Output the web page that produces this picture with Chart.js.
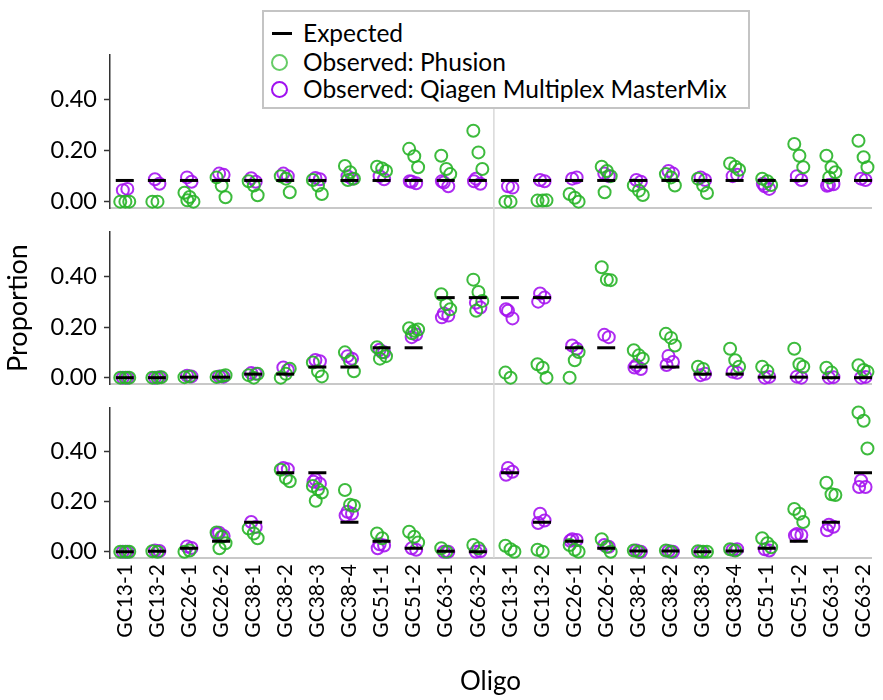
<!DOCTYPE html>
<html>
<head>
<meta charset="utf-8">
<script src="https://cdn.jsdelivr.net/npm/chart.js@4.4.1/dist/chart.umd.min.js"></script>
<style>
  html, body { margin: 0; padding: 0; background: #fff; }
  body { width: 883px; height: 700px; position: relative; overflow: hidden; font-family: Lato, "Open Sans", sans-serif; }
  canvas { position: absolute; left: 0; }
  #legend { position: absolute; left: 262px; top: 10px; width: 488px; height: 99px; box-sizing: border-box;
            border: 2px solid #c4c4c4; background: #fff; z-index: 5; }
  #legend .row { position: absolute; left: 0; height: 28px; line-height: 28px; font-size: 24.5px; color: #000; white-space: nowrap; }
  #legend .sym { position: absolute; }
  #legend .txt { position: absolute; left: 39px; top: 0; }
  #legend .dash { left: 8px; top: 13px; width: 20px; height: 3px; background: #000; }
  #legend .circ { left: 7px; top: 6px; width: 13px; height: 13px; border-radius: 50%; border: 2.5px solid; }
</style>
</head>
<body>
<canvas id="c1" width="883" height="220" style="top:0px"></canvas>
<canvas id="c2" width="883" height="176" style="top:220px"></canvas>
<canvas id="c3" width="883" height="304" style="top:396px"></canvas>
<div id="legend">
  <div class="row" style="top:7px"><span class="sym dash"></span><span class="txt">Expected</span></div>
  <div class="row" style="top:36px"><span class="sym circ" style="border-color:#66cc66"></span><span class="txt">Observed: Phusion</span></div>
  <div class="row" style="top:63px"><span class="sym circ" style="border-color:#a010f0"></span><span class="txt">Observed: Qiagen Multiplex MasterMix</span></div>
</div>
<script>
// ---------------- DATA ----------------
const oligos = ['GC13-1','GC13-2','GC26-1','GC26-2','GC38-1','GC38-2','GC38-3','GC38-4','GC51-1','GC51-2','GC63-1','GC63-2'];
const categories = oligos.concat(oligos);
const yTickValues = [0, 0.1, 0.2, 0.3, 0.4, 0.5];

// Panel 1 (top)
const expectedA = [0.083,0.083,0.083,0.083,0.083,0.083,0.083,0.083,0.083,0.083,0.083,0.083,
                   0.083,0.083,0.083,0.083,0.083,0.083,0.083,0.083,0.083,0.083,0.083,0.083];
const phusionA = [
  [0.0,0.0,0.0],[0.0,0.0],[0.035,0.018,0.0,0.005],[0.095,0.062,0.017],
  [0.08,0.063,0.025],[0.1,0.09,0.037],[0.085,0.063,0.03],[0.14,0.115,0.09,0.085],
  [0.137,0.13,0.12],[0.207,0.178,0.135],[0.18,0.128,0.108],[0.278,0.193,0.128],
  [0.0,0.0],[0.004,0.004,0.005],[0.03,0.015,0.0],[0.137,0.12,0.1,0.037],
  [0.063,0.043,0.026],[0.108,0.095,0.063],[0.09,0.063,0.034],[0.15,0.137,0.125],
  [0.09,0.08,0.065],[0.226,0.18,0.135],[0.18,0.135,0.115,0.095],[0.239,0.174,0.135]
];
const qiagenA = [
  [0.045,0.05],[0.088,0.07],[0.095,0.078],[0.11,0.105],
  [0.092,0.078],[0.11,0.1],[0.093,0.088],[0.1,0.09],
  [0.1,0.088],[0.078,0.072,0.08],[0.075,0.06,0.08],[0.09,0.07,0.08],
  [0.06,0.055],[0.085,0.08],[0.09,0.095],[0.11,0.1],
  [0.085,0.078],[0.12,0.11],[0.095,0.085],[0.1,0.105],
  [0.06,0.05,0.07],[0.1,0.085],[0.065,0.068,0.062],[0.09,0.085]
];

// Panel 2 (middle)
const expectedB = [0,0,0.002,0.002,0.014,0.014,0.042,0.042,0.118,0.118,0.316,0.316,
                   0.316,0.316,0.118,0.118,0.042,0.042,0.014,0.014,0.002,0.002,0,0];
const phusionB = [
  [0,0,0],[0,0,0.002],[0.002,0.005],[0.003,0.006,0.01],
  [0.01,0,0.015],[0.0,0.015,0.035],[0.06,0.025,0.005],[0.1,0.065,0.025],
  [0.12,0.1,0.085,0.075],[0.195,0.185,0.19,0.175],[0.329,0.29,0.27],[0.387,0.338,0.303,0.264],
  [0.02,0.0],[0.053,0.039,0.0],[0.0,0.069,0.101],[0.436,0.387,0.385],
  [0.108,0.088,0.075],[0.173,0.157,0.127],[0.043,0.034],[0.114,0.069,0.043],
  [0.043,0.026],[0.114,0.053,0.043],[0.039,0.02],[0.049,0.03,0.023]
];
const qiagenB = [
  [0,0],[0,0.002],[0.008,0.005],[0.005,0.004],
  [0.018,0.015],[0.04,0.03],[0.07,0.065],[0.085,0.075],
  [0.11,0.1],[0.16,0.17],[0.253,0.245,0.238],[0.296,0.277],
  [0.264,0.234,0.27],[0.332,0.316,0.3],[0.127,0.114],[0.169,0.16],
  [0.049,0.034,0.04],[0.086,0.062,0.05],[0.01,0.015],[0.023,0.019],
  [0.0,0.003],[0.004,0.0],[0.0,0.002],[0.0,0.003]
];

// Panel 3 (bottom)
const expectedC = [0,0.002,0.014,0.042,0.118,0.316,0.316,0.118,0.042,0.014,0.002,0,
                   0.316,0.118,0.042,0.014,0.003,0.003,0,0.003,0.014,0.042,0.118,0.316];
const phusionC = [
  [0,0,0],[0.002,0],[0,0.005],[0.077,0.06,0.034,0.014],
  [0.093,0.073,0.054],[0.328,0.295,0.282],[0.263,0.25,0.237,0.204],[0.247,0.188,0.184],
  [0.073,0.054],[0.08,0.06,0.037],[0.014,0.0],[0.027,0.014],
  [0.024,0.01,0.0],[0.008,0.0],[0.027,0.008,0.0],[0.05,0.02,0.0],
  [0.005,0.0],[0.005,0.0],[0.002,0.0,0.0],[0.01,0.005],
  [0.054,0.034,0.018],[0.171,0.152,0.119],[0.276,0.23,0.227],[0.557,0.524,0.413]
];
const qiagenC = [
  [0,0],[0.005,0.003],[0.021,0.015],[0.076,0.063,0.07],
  [0.119,0.099],[0.335,0.33],[0.289,0.272,0.28],[0.16,0.152,0.145],
  [0.03,0.025,0.014],[0.014,0.008],[0,0],[0,0.002],
  [0.335,0.32,0.308],[0.152,0.125,0.115],[0.05,0.047,0.044],[0.027,0.02],
  [0.005,0],[0.003,0],[0],[0.008,0.01],
  [0.01,0.005],[0.071,0.067,0.065],[0.108,0.1,0.086],[0.285,0.259,0.259]
];

// ---------------- DRAWING ----------------
const FONT = 'Lato';
const greenJitter = [-0.14, 0.02, 0.14, -0.05];
const purpleJitter = [-0.06, 0.08, -0.12];

function strip(groups, jitter) {
  const pts = [];
  groups.forEach((vals, i) => vals.forEach((v, j) => pts.push({ x: i + jitter[j % jitter.length], y: v })));
  return pts;
}

const separator = {
  id: 'separator',
  beforeDatasetsDraw(chart, args, opts) {
    const x = chart.scales.x.getPixelForValue(11.5);
    const ctx = chart.ctx;
    ctx.save();
    ctx.strokeStyle = '#d9d9d9';
    ctx.lineWidth = 1.5;
    ctx.beginPath();
    const y0 = opts.fromTop ? 0 : chart.chartArea.top;
    const y1 = opts.toBottom ? chart.height : chart.chartArea.bottom;
    ctx.moveTo(x, y0);
    ctx.lineTo(x, y1);
    ctx.stroke();
    ctx.restore();
  }
};

function makePanel(id, expected, phusion, qiagen, cfg) {
  const isBottom = !!cfg.bottom;
  return new Chart(document.getElementById(id), {
    type: 'scatter',
    data: {
      datasets: [
        { label: 'Expected', data: expected.map((v, i) => ({ x: i, y: v })),
          pointStyle: 'line', pointRadius: 9, pointHoverRadius: 9, borderWidth: 3, pointBorderWidth: 3,
          borderColor: '#000', backgroundColor: '#000', showLine: false, clip: false },
        { label: 'Observed: Phusion', data: strip(phusion, greenJitter),
          pointStyle: 'circle', pointRadius: 6, pointBorderWidth: 2,
          borderColor: 'rgba(40,180,40,0.9)', backgroundColor: 'rgba(0,0,0,0)', showLine: false, clip: false },
        { label: 'Observed: Qiagen Multiplex MasterMix', data: strip(qiagen, purpleJitter),
          pointStyle: 'circle', pointRadius: 6, pointBorderWidth: 2,
          borderColor: 'rgba(165,20,240,0.9)', backgroundColor: 'rgba(0,0,0,0)', showLine: false, clip: false }
      ]
    },
    options: {
      responsive: false,
      animation: false,
      devicePixelRatio: 1,
      layout: { padding: { top: cfg.padTop, left: 0, right: 0, bottom: 0 } },
      plugins: {
        legend: { display: false },
        tooltip: { enabled: false },
        separator: { fromTop: cfg.sepFromTop, toBottom: cfg.sepToBottom }
      },
      scales: {
        x: {
          type: 'linear', min: -0.46, max: 23.25,
          afterBuildTicks: sc => { sc.ticks = categories.map((c, i) => ({ value: i })); },
          afterFit: sc => { sc.height = cfg.xHeight; sc.paddingLeft = 0; sc.paddingRight = 0; },
          ticks: {
            display: isBottom, autoSkip: false, maxRotation: 90, minRotation: 90,
            padding: 6, color: '#000', font: { family: FONT, size: 21 },
            callback: v => categories[v]
          },
          grid: { display: true, drawOnChartArea: false, drawTicks: false },
          border: { display: true, color: '#c8c8c8', width: 2 },
          title: isBottom ? { display: true, text: 'Oligo', color: '#000',
                              font: { family: FONT, size: 26 }, padding: { top: 0, bottom: 3 } }
                          : { display: false }
        },
        y: {
          min: -0.025, max: 0.575,
          afterBuildTicks: sc => { sc.ticks = yTickValues.map(v => ({ value: v })); },
          afterFit: sc => { sc.width = 110; sc.paddingTop = 0; sc.paddingBottom = 0; },
          ticks: {
            padding: 7, color: '#000', font: { family: FONT, size: 23.5 },
            callback: v => (Math.round(v * 10) % 2 === 0 ? v.toFixed(2) : '')
          },
          grid: { display: true, drawOnChartArea: false, drawTicks: true, tickLength: 6,
                  tickColor: '#333', tickWidth: 1.5 },
          border: { display: true, color: '#333', width: 1.5 },
          title: cfg.yTitle ? { display: true, text: 'Proportion', color: '#000',
                                font: { family: FONT, size: 27 }, padding: { top: 2, bottom: 0 } }
                            : { display: false }
        }
      }
    },
    plugins: [separator]
  });
}

makePanel('c1', expectedA, phusionA, qiagenA, { padTop: 55, xHeight: 11, sepFromTop: false, sepToBottom: true });
makePanel('c2', expectedB, phusionB, qiagenB, { padTop: 11, xHeight: 10, sepFromTop: true, sepToBottom: true, yTitle: true });
makePanel('c3', expectedC, phusionC, qiagenC, { padTop: 11, xHeight: 142, sepFromTop: true, sepToBottom: false, bottom: true });
</script>
</body>
</html>
